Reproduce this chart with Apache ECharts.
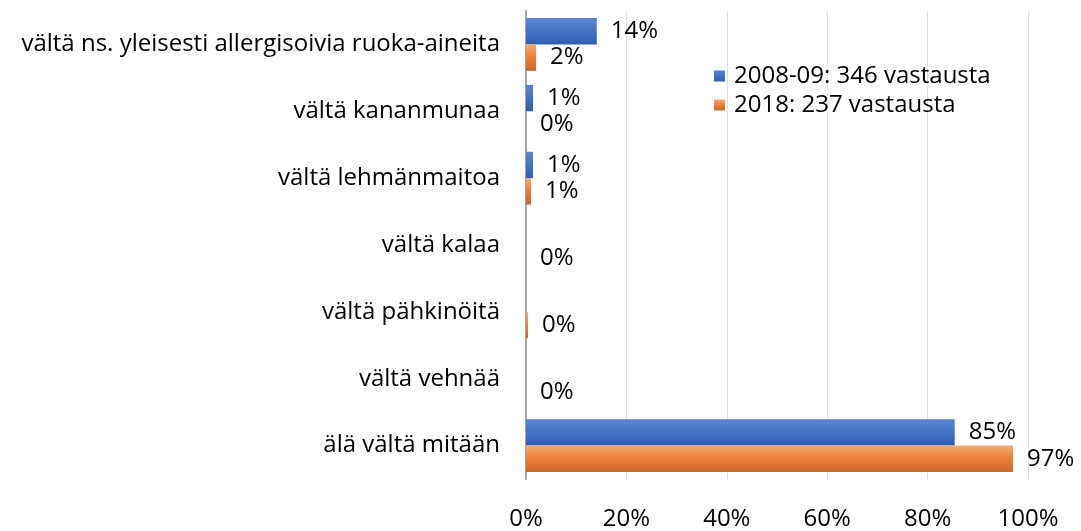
<!DOCTYPE html>
<html>
<head>
<meta charset="utf-8">
<script src="https://cdn.jsdelivr.net/npm/echarts@6/dist/echarts.min.js"></script>
<style>
  html, body { margin: 0; padding: 0; background: #fff; }
  #chart { width: 1081px; height: 531px; }
</style>
</head>
<body>
<div id="chart"></div>
<script>
var categories = [
  'vältä ns. yleisesti allergisoivia ruoka-aineita',
  'vältä kananmunaa',
  'vältä lehmänmaitoa',
  'vältä kalaa',
  'vältä pähkinöitä',
  'vältä vehnää',
  'älä vältä mitään'
];
var values2008 = [14.1, 1.4, 1.4, null, null, null, 85.4];
var values2018 = [2.0, 0, 1.0, 0, 0.4, 0, 97.0];
var xTicks = [0, 20, 40, 60, 80, 100];

var font = '"Open Sans", sans-serif';
var fs = 24;

function grad(top, mid, bottom) {
  return new echarts.graphic.LinearGradient(0, 0, 0, 1, [
    { offset: 0, color: top },
    { offset: 0.5, color: mid },
    { offset: 1, color: bottom }
  ]);
}

var chart = echarts.init(document.getElementById('chart'));
var labelOpt = {
  show: true,
  position: 'right',
  distance: 14,
  color: '#000',
  fontFamily: font,
  fontSize: fs,
  formatter: function (p) { return Math.round(p.value) + '%'; }
};

chart.setOption({
  animation: false,
  textStyle: { fontFamily: font },
  grid: { left: 526, right: 53, top: 11, bottom: 47 },
  legend: {
    orient: 'vertical',
    left: 709,
    top: 59,
    itemWidth: 11,
    itemHeight: 11,
    itemGap: 5,
    icon: 'rect',
    textStyle: { fontFamily: font, fontSize: fs, color: '#000', padding: [0, 0, 0, 4] },
    data: ['2008-09: 346 vastausta', '2018: 237 vastausta']
  },
  xAxis: {
    type: 'value',
    min: 0,
    max: 100,
    interval: 20,
    axisLine: { show: false },
    axisTick: { show: false },
    splitLine: { lineStyle: { color: '#d9e1f0', width: 1 } },
    axisLabel: {
      margin: 28,
      color: '#000',
      fontFamily: font,
      fontSize: fs,
      formatter: function (v) { return xTicks.indexOf(v) >= 0 ? v + '%' : ''; }
    }
  },
  yAxis: {
    type: 'category',
    inverse: true,
    data: categories,
    axisLine: { show: true, lineStyle: { color: '#a6a6a6', width: 2 } },
    axisTick: { show: false },
    axisLabel: { margin: 26, color: '#000', fontFamily: font, fontSize: fs }
  },
  series: [
    {
      name: '2008-09: 346 vastausta',
      type: 'bar',
      data: values2008,
      barGap: '0%',
      barCategoryGap: '21%',
      itemStyle: { color: grad('#5b85d3', '#4472c4', '#2e5db5') },
      label: labelOpt
    },
    {
      name: '2018: 237 vastausta',
      type: 'bar',
      data: values2018,
      itemStyle: { color: grad('#f5ab7a', '#ed7d31', '#c8682c') },
      label: labelOpt
    }
  ]
});
</script>
</body>
</html>
